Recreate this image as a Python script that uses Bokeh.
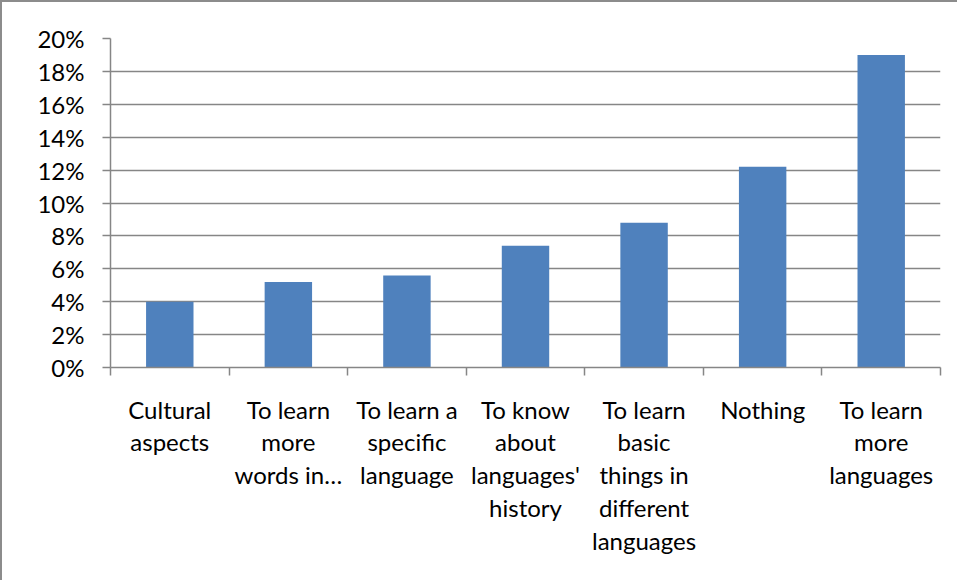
from bokeh.plotting import figure
from bokeh.models import FixedTicker, LinearAxis, Range1d, NumeralTickFormatter
from bokeh.embed import file_html
from bokeh.resources import INLINE

categories = ["Cultural\naspects", "To learn\nmore\nwords in…", "To learn a\nspecific\nlanguage",
              "To know\nabout\nlanguages'\nhistory", "To learn\nbasic\nthings in\ndifferent\nlanguages",
              "Nothing", "To learn\nmore\nlanguages"]
values = [0.040, 0.052, 0.056, 0.074, 0.088, 0.122, 0.190]
y_ticks = [0.00, 0.02, 0.04, 0.06, 0.08, 0.10, 0.12, 0.14, 0.16, 0.18, 0.20]

n = len(categories)
centers = [i + 0.5 for i in range(n)]
boundaries = list(range(n + 1))
FONT = "Lato"
GRAY = "#868686"

p = figure(width=957, height=580, output_backend="svg", toolbar_location=None,
           x_range=Range1d(0, n), y_range=Range1d(0, 0.20),
           min_border_left=108, min_border_top=36, min_border_right=19, min_border_bottom=215,
           x_axis_location=None)
p.styles = {"border-left": "2px solid #8c8c8c", "border-top": "2px solid #8c8c8c"}
p.outline_line_color = None
p.background_fill_color = "white"
p.border_fill_color = "white"

p.vbar(x=centers, top=values, width=0.4, bottom=0, fill_color="#4f81bd", line_color=None)

# y axis
p.yaxis.ticker = FixedTicker(ticks=y_ticks)
p.yaxis.formatter = NumeralTickFormatter(format="0%")
p.yaxis.axis_line_color = GRAY
p.yaxis.axis_line_width = 1.5
p.yaxis.major_tick_line_color = GRAY
p.yaxis.major_tick_line_width = 1.5
p.yaxis.major_tick_out = 8
p.yaxis.major_tick_in = 0
p.yaxis.minor_tick_line_color = None
p.yaxis.major_label_text_font = FONT
p.yaxis.major_label_text_font_size = "24px"
p.yaxis.major_label_text_color = "black"
p.yaxis.major_label_standoff = 18

p.ygrid.ticker = FixedTicker(ticks=y_ticks)
p.ygrid.grid_line_color = GRAY
p.ygrid.grid_line_width = 1.5
p.xgrid.grid_line_color = None

# x axis: boundary ticks (no labels)
xa = LinearAxis(ticker=FixedTicker(ticks=boundaries))
xa.axis_line_color = GRAY
xa.axis_line_width = 1.5
xa.major_tick_line_color = GRAY
xa.major_tick_line_width = 1.5
xa.major_tick_out = 8
xa.major_tick_in = 0
xa.minor_tick_line_color = None
xa.major_label_overrides = {b: "" for b in boundaries}
xa.major_label_text_font_size = "1px"
xa.major_label_standoff = 0
p.add_layout(xa, "below")

# x axis: category labels
xl = LinearAxis(ticker=FixedTicker(ticks=centers))
xl.major_label_overrides = {c: lab for c, lab in zip(centers, categories)}
xl.axis_line_color = None
xl.major_tick_line_color = None
xl.minor_tick_line_color = None
xl.major_label_text_font = FONT
xl.major_label_text_font_size = "24px"
xl.major_label_text_color = "black"
xl.major_label_text_line_height = 1.13
xl.major_label_standoff = 13
p.add_layout(xl, "below")

open("out.html", "w").write(file_html(p, INLINE))
